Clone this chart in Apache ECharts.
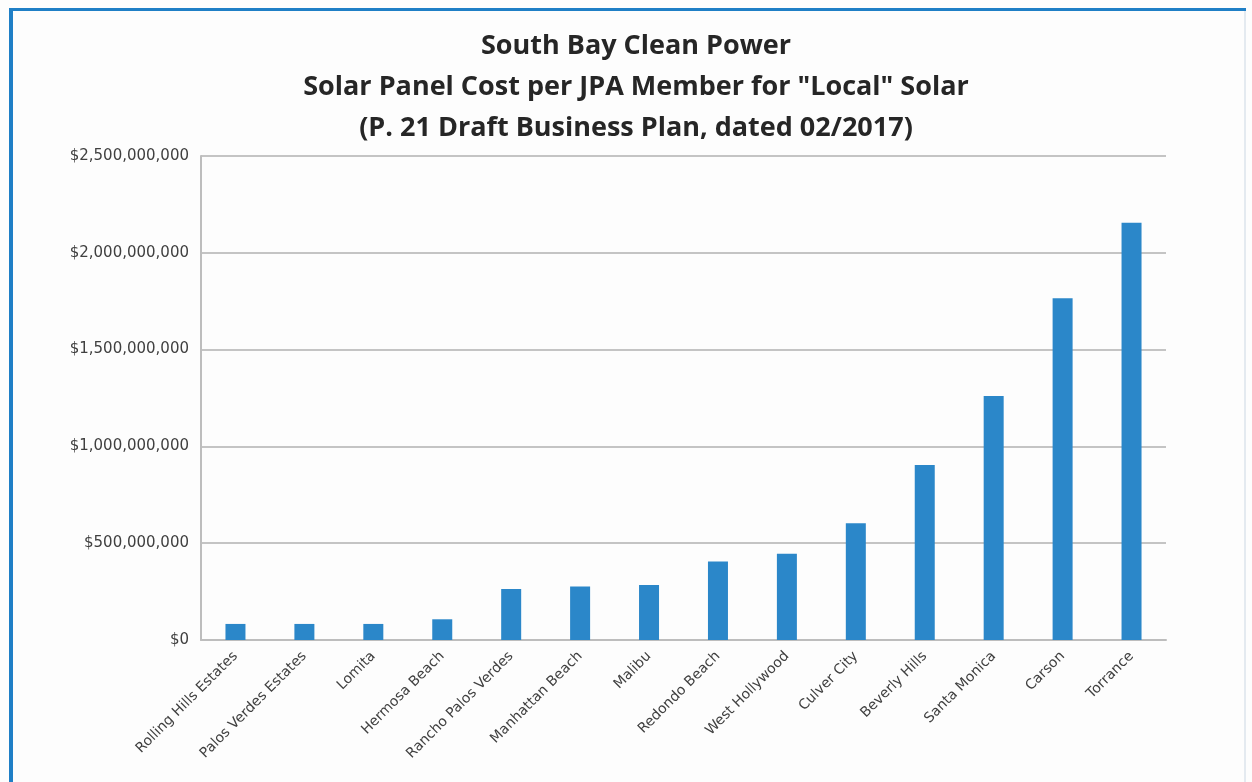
<!DOCTYPE html>
<html>
<head>
<meta charset="utf-8">
<script src="https://cdn.jsdelivr.net/npm/echarts@6/dist/echarts.min.js"></script>
<style>
  html, body { margin: 0; padding: 0; background: #fdfdfd; }
  #chart { width: 1252px; height: 782px; }
</style>
</head>
<body>
<div id="chart"></div>
<script>
const titleLines = [
  'South Bay Clean Power',
  'Solar Panel Cost per JPA Member for "Local" Solar',
  '(P. 21 Draft Business Plan, dated 02/2017)'
];
const categories = [
  'Rolling Hills Estates', 'Palos Verdes Estates', 'Lomita', 'Hermosa Beach',
  'Rancho Palos Verdes', 'Manhattan Beach', 'Malibu', 'Redondo Beach',
  'West Hollywood', 'Culver City', 'Beverly Hills', 'Santa Monica', 'Carson', 'Torrance'
];
const costs = [
  83000000, 83000000, 83000000, 107000000,
  264000000, 276000000, 284000000, 405000000,
  445000000, 603000000, 904000000, 1260000000, 1765000000, 2155000000
];
const yMin = 0, yMax = 2500000000, yStep = 500000000;

const chart = echarts.init(document.getElementById('chart'));
chart.setOption({
  backgroundColor: '#fdfdfd',
  animation: false,
  title: {
    text: titleLines.join('\n'),
    left: 631,
    textAlign: 'center',
    top: 21,
    textStyle: {
      fontFamily: 'Open Sans',
      fontWeight: 'bold',
      fontSize: 27,
      lineHeight: 41,
      color: '#262626'
    }
  },
  graphic: [
    { type: 'rect', shape: { x: 9, y: 9, width: 4, height: 773 }, style: { fill: '#1f7fc6' }, silent: true },
    { type: 'rect', shape: { x: 9, y: 8, width: 1237, height: 3 }, style: { fill: '#1f7fc6' }, silent: true },
    { type: 'rect', shape: { x: 1244, y: 11, width: 2, height: 771 }, style: { fill: '#e4eaf0' }, silent: true }
  ],
  grid: { left: 201, right: 86, top: 156, bottom: 142, containLabel: false },
  xAxis: {
    type: 'category',
    data: categories,
    axisLine: { show: true, lineStyle: { color: '#bdbdbd', width: 2 } },
    axisTick: { show: false },
    axisLabel: {
      rotate: 45,
      interval: 0,
      margin: 14,
      fontFamily: 'DejaVu Sans',
      fontSize: 14,
      color: '#404040'
    }
  },
  yAxis: {
    type: 'value',
    min: yMin,
    max: yMax,
    interval: yStep,
    axisLine: { show: true, lineStyle: { color: '#bdbdbd', width: 2 } },
    axisTick: { show: false },
    splitLine: { show: true, lineStyle: { color: '#c4c4c4', width: 2 } },
    axisLabel: {
      margin: 12,
      fontFamily: 'DejaVu Sans',
      fontSize: 15,
      color: '#404040',
      formatter: v => '$' + v.toLocaleString('en-US')
    }
  },
  series: [{
    type: 'bar',
    data: costs,
    barWidth: 20,
    itemStyle: { color: '#2b87c9' }
  }]
});
</script>
</body>
</html>
